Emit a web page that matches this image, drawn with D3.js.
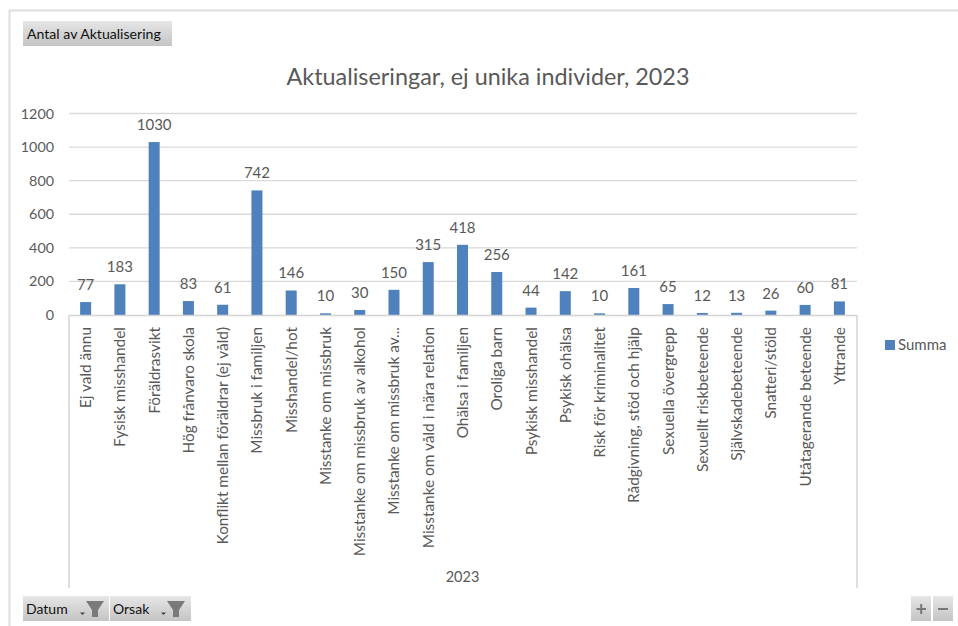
<!DOCTYPE html>
<html><head><meta charset="utf-8">
<script src="https://cdn.jsdelivr.net/npm/d3@7/dist/d3.min.js"></script>
<style>html,body{margin:0;padding:0;background:#fff;overflow:hidden}svg{display:block;font-family:Lato,"Open Sans",sans-serif}</style>
</head><body><svg id="c" width="958" height="626"></svg>
<script>
const categories=["Ej vald ännu","Fysisk misshandel","Föräldrasvikt","Hög frånvaro skola","Konflikt mellan föräldrar (ej våld)","Missbruk i familjen","Misshandel/hot","Misstanke om missbruk","Misstanke om missbruk av alkohol","Misstanke om missbruk av...","Misstanke om våld i nära relation","Ohälsa i familjen","Oroliga barn","Psykisk misshandel","Psykisk ohälsa","Risk för kriminalitet","Rådgivning, stöd och hjälp","Sexuella övergrepp","Sexuellt riskbeteende","Självskadebeteende","Snatteri/stöld","Utåtagerande beteende","Yttrande"];
const values=[77,183,1030,83,61,742,146,10,30,150,315,418,256,44,142,10,161,65,12,13,26,60,81];
const yTicks=[0,200,400,600,800,1000,1200];
const titleText="Aktualiseringar, ej unika individer, 2023";
const seriesName="Summa";
const yearLabel="2023";
const topButton="Antal av Aktualisering";
const filterButtons=["Datum","Orsak"];

const svg=d3.select("#c");
const txt="#595959",grid="#d9d9d9",blue="#4f81bd";
const defs=svg.append("defs");
const g=defs.append("linearGradient").attr("id","btn").attr("x1",0).attr("x2",0).attr("y1",0).attr("y2",1);
g.append("stop").attr("offset",0).attr("stop-color","#e6e6e6");
g.append("stop").attr("offset",1).attr("stop-color","#c4c4c4");

svg.append("path").attr("d","M9.5 626V10.5H958").attr("fill","none").attr("stroke","#dedede").attr("stroke-width",2);

const x=d3.scaleBand().domain(categories).range([68.5,856.5]);
const y=d3.scaleLinear().domain([0,1200]).range([315,113.5]);
const barW=11;

const gy=svg.append("g").attr("transform","translate(69,0)").call(d3.axisLeft(y).tickValues(yTicks).tickFormat(d3.format("d")).tickSize(0).tickPadding(15));
gy.select(".domain").remove();
gy.selectAll("text").attr("font-size",14.3).attr("fill",txt).attr("font-family","Lato");
svg.append("g").selectAll("line").data(yTicks.slice(1)).join("line")
 .attr("x1",69).attr("x2",857).attr("y1",d=>y(d)).attr("y2",d=>y(d)).attr("stroke",grid).attr("stroke-width",1.3);

svg.append("g").selectAll("rect").data(values).join("rect")
 .attr("x",(d,i)=>x(categories[i])+x.bandwidth()/2-barW/2)
 .attr("y",d=>y(d)).attr("width",barW).attr("height",d=>y(0)-y(d)).attr("fill",blue);

svg.append("g").selectAll("text").data(values).join("text")
 .attr("x",(d,i)=>x(categories[i])+x.bandwidth()/2).attr("y",d=>y(d)-12)
 .attr("text-anchor","middle").attr("font-size",15).attr("fill",txt).text(d=>d);

svg.append("path").attr("d","M69 588V315.5H857V588").attr("fill","none").attr("stroke","#d4d4d4").attr("stroke-width",1.5);

svg.append("g").selectAll("text").data(categories).join("text")
 .attr("transform",d=>`translate(${x(d)+x.bandwidth()/2+5.5},327) rotate(-90)`)
 .attr("text-anchor","end").attr("font-size",15.4).attr("fill",txt).text(d=>d);

svg.append("text").attr("x",462.5).attr("y",582).attr("text-anchor","middle").attr("font-size",14.5).attr("fill",txt).text(yearLabel);
svg.append("text").attr("x",488).attr("y",85).attr("text-anchor","middle").attr("font-size",23.4).attr("fill",txt).text(titleText);

svg.append("rect").attr("x",885).attr("y",340).attr("width",10).attr("height",10).attr("fill",blue);
svg.append("text").attr("x",898).attr("y",350).attr("font-size",15).attr("fill",txt).text(seriesName);

function btn(bx,by,w,h){svg.append("rect").attr("x",bx).attr("y",by).attr("width",w).attr("height",h).attr("fill","url(#btn)");}
btn(23,21,149,25);
svg.append("text").attr("x",27).attr("y",38.5).attr("font-size",14.1).attr("fill","#111").text(topButton);

const fb=[[23,86,95],[110,81,176]];
filterButtons.forEach((t,i)=>{
 const [bx,w,fx]=fb[i];
 btn(bx,596,w,25);
 svg.append("text").attr("x",bx+3).attr("y",613.5).attr("font-size",14).attr("fill","#111").text(t);
 svg.append("path").attr("d",`M${fx-9} 601H${fx+9}L${fx+3} 610V617H${fx-3}V610Z`).attr("fill","#7a7a7a");
 svg.append("path").attr("d",`M${fx-15} 612.5h5l-2.5 2.5Z`).attr("fill","#444");
});

btn(911,596,20,25);btn(933,596,20,25);
svg.append("path").attr("d","M916.5 609H926M921.2 604V614").attr("stroke","#777").attr("stroke-width",2).attr("fill","none");
svg.append("path").attr("d","M938 609H948").attr("stroke","#777").attr("stroke-width",2).attr("fill","none");
</script></body></html>
